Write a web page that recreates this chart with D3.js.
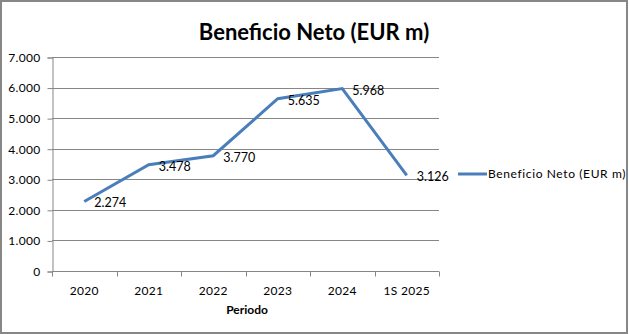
<!DOCTYPE html>
<html><head><meta charset="utf-8">
<script src="https://cdn.jsdelivr.net/npm/d3@7"></script>
<style>
html,body{margin:0;padding:0;background:#fff;}
svg{display:block;}
text{font-family:Lato,"Open Sans",sans-serif;fill:#000;}
</style></head>
<body>
<script>
const categories = ["2020","2021","2022","2023","2024","1S 2025"];
const values = [2274, 3478, 3770, 5635, 5968, 3126];
const valueLabels = ["2.274","3.478","3.770","5.635","5.968","3.126"];
const yTicks = [0,1000,2000,3000,4000,5000,6000,7000];
const yTickLabels = ["0","1.000","2.000","3.000","4.000","5.000","6.000","7.000"];
const title = "Beneficio Neto (EUR m)";
const seriesName = "Beneficio Neto (EUR m)";
const xTitle = "Periodo";

const W = 629, H = 334;
const m = {left:52, right:439, top:57, bottom:271};
const svg = d3.select("body").append("svg").attr("width",W).attr("height",H);

svg.append("rect").attr("x",1).attr("y",1).attr("width",W-3).attr("height",H-2)
  .attr("fill","#fff").attr("stroke","#878787").attr("stroke-width",2);

const x = d3.scaleBand().domain(categories).range([m.left,m.right]);
const y = d3.scaleLinear().domain([0,7000]).range([m.bottom,m.top]);

// gridlines
svg.append("g").selectAll("line").data(yTicks.filter(d=>d>0)).join("line")
  .attr("x1",m.left).attr("x2",m.right)
  .attr("y1",d=>Math.round(y(d))+0.5).attr("y2",d=>Math.round(y(d))+0.5)
  .attr("stroke","#868686").attr("stroke-width",1);

// y axis
const yAxis = d3.axisLeft(y).tickValues(yTicks).tickSize(5).tickPadding(7)
  .tickFormat((d,i)=>yTickLabels[i]);
const gy = svg.append("g").attr("transform",`translate(${m.left+0.5},0.5)`).call(yAxis);
gy.select(".domain").attr("stroke","#868686");
gy.selectAll(".tick line").attr("stroke","#868686");
gy.selectAll(".tick text").attr("font-size","12px").attr("font-family","Lato").attr("fill","#000")
  .attr("letter-spacing","0.3px");

// x axis
const gx = svg.append("g").attr("transform",`translate(0,${m.bottom+0.5})`);
gx.append("line").attr("x1",m.left).attr("x2",m.right).attr("y1",0).attr("y2",0).attr("stroke","#868686");
const bounds = categories.map(c=>x(c)).concat([m.right]);
gx.selectAll("line.t").data(bounds).join("line").attr("class","t")
  .attr("x1",d=>Math.round(d)+0.5).attr("x2",d=>Math.round(d)+0.5).attr("y1",0).attr("y2",5)
  .attr("stroke","#868686");
gx.selectAll("text").data(categories).join("text")
  .attr("x",d=>x(d)+x.bandwidth()/2).attr("y",23)
  .attr("text-anchor","middle").attr("font-size","12px").attr("letter-spacing","0.3px").text(d=>d);

// line
const line = d3.line().x((d,i)=>x(categories[i])+x.bandwidth()/2).y(d=>y(d));
svg.append("path").datum(values).attr("d",line).attr("fill","none")
  .attr("stroke","#4A7EBB").attr("stroke-width",3).attr("stroke-linejoin","miter");

// value labels
svg.append("g").selectAll("text").data(values).join("text")
  .attr("x",(d,i)=>x(categories[i])+x.bandwidth()/2+10)
  .attr("y",d=>y(d)+6)
  .attr("font-size","12.5px").text((d,i)=>valueLabels[i]);

// title
svg.append("text").attr("x",314).attr("y",40).attr("text-anchor","middle")
  .attr("font-size","22px").attr("font-weight","bold").text(title);

// x title
svg.append("text").attr("x",247).attr("y",314).attr("text-anchor","middle")
  .attr("font-size","12px").attr("font-weight","bold").text(xTitle);

// legend
svg.append("line").attr("x1",458).attr("x2",487).attr("y1",174).attr("y2",174)
  .attr("stroke","#4A7EBB").attr("stroke-width",3);
svg.append("text").attr("x",488).attr("y",178).attr("font-size","12px")
  .attr("letter-spacing","0.62px").text(seriesName);
</script>
</body></html>
